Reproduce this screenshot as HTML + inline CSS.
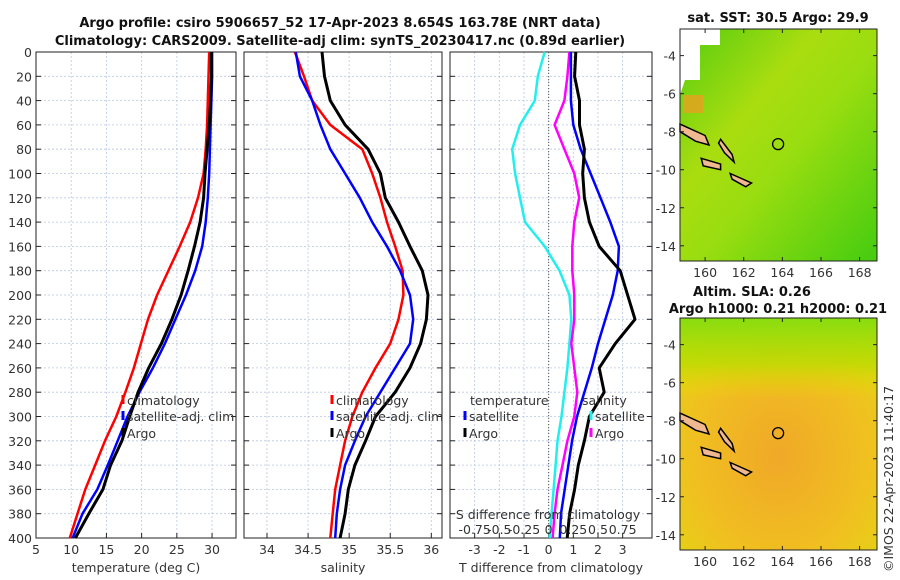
<!DOCTYPE html>
<html><head><meta charset="utf-8">
<style>
body{margin:0;background:#fff;}
svg{display:block;font-family:"DejaVu Sans","Liberation Sans",sans-serif;}
.t{font-size:12.5px;fill:#333;}
.b{font-weight:bold;font-size:13px;fill:#111;}
</style></head>
<body>
<svg id="c" width="900" height="580" viewBox="0 0 900 580" xmlns="http://www.w3.org/2000/svg">
<defs>
<linearGradient id="sst" x1="0" y1="0" x2="1" y2="1">
<stop offset="0" stop-color="#55cc10"/><stop offset="0.35" stop-color="#aadd10"/><stop offset="0.55" stop-color="#99dd10"/><stop offset="1" stop-color="#44cc10"/>
</linearGradient>
<radialGradient id="sla1" cx="0.5" cy="0.6" r="0.75">
<stop offset="0" stop-color="#f0a828"/><stop offset="0.6" stop-color="#f0c020"/><stop offset="1" stop-color="#e0d810"/>
</radialGradient>
<linearGradient id="sla2" x1="0" y1="0" x2="0" y2="1">
<stop offset="0" stop-color="#88dd10" stop-opacity="1"/><stop offset="0.2" stop-color="#bbdd00" stop-opacity="0.8"/><stop offset="0.35" stop-color="#eedd00" stop-opacity="0"/>
</linearGradient>
</defs>
<text class="b" x="340" y="27" text-anchor="middle">Argo profile: csiro 5906657_52 17-Apr-2023 8.654S 163.78E (NRT data)</text>
<text class="b" x="340" y="45" text-anchor="middle">Climatology: CARS2009. Satellite-adj clim: synTS_20230417.nc (0.89d earlier)</text>
<g id="plots"></g>
<g>
<rect x="680" y="29" width="197" height="232" fill="url(#sst)"/>
<polygon points="680,29 720,29 720,45 700,45 700,80 685,80 680,95" fill="#fff"/>
<rect x="683" y="95" width="20" height="18" fill="#e8a020" opacity="0.8"/>
<text class="b" x="778" y="22" text-anchor="middle">sat. SST: 30.5 Argo: 29.9</text>
</g>
<g>
<rect x="680" y="318" width="197" height="232" fill="url(#sla1)"/>
<rect x="680" y="318" width="197" height="232" fill="url(#sla2)"/>
<text class="b" x="752" y="296" text-anchor="middle">Altim. SLA: 0.26</text>
<text class="b" x="778" y="313" text-anchor="middle">Argo h1000: 0.21 h2000: 0.21</text>
</g>
<g id="maps"></g>
<text class="t" transform="translate(893,572) rotate(-90)" x="0" y="0">©IMOS 22-Apr-2023 11:40:17</text>
</svg>
<script>
const depths=[0,20,40,60,80,100,120,140,160,180,200,220,240,260,280,300,320,340,360,380,400];
const tClim=[29.6,29.5,29.4,29.3,29.1,28.8,28.0,26.9,25.4,23.8,22.2,20.9,19.9,18.9,17.7,16.4,14.8,13.4,12.0,10.9,9.8];
const tSat=[30.0,30.0,29.9,29.8,29.7,29.6,29.4,29.1,28.6,27.6,26.3,24.8,23.3,21.6,19.7,18.0,16.6,15.2,13.7,11.6,10.2];
const tArgo=[29.9,29.9,29.8,29.6,29.3,29.0,28.8,28.3,27.5,26.6,25.6,24.3,22.8,21.0,19.5,18.3,17.2,15.6,14.5,12.5,10.6];
const sClim=[34.34,34.45,34.55,34.77,35.16,35.28,35.38,35.46,35.56,35.65,35.66,35.6,35.5,35.32,35.16,35.04,34.95,34.89,34.83,34.8,34.77];
const sSat=[34.35,34.40,34.55,34.65,34.77,34.95,35.13,35.28,35.46,35.62,35.74,35.78,35.74,35.56,35.38,35.2,35.07,34.95,34.89,34.85,34.83];
const sArgo=[34.67,34.70,34.77,34.95,35.23,35.38,35.44,35.6,35.74,35.89,35.96,35.94,35.87,35.74,35.56,35.32,35.2,35.07,34.99,34.95,34.89];
const dTSat=[0.9,0.9,0.9,1.0,1.3,1.7,2.1,2.5,2.85,2.8,2.6,2.3,2.0,1.75,1.45,1.15,0.95,0.8,0.65,0.5,0.45];
const dTArgo=[1.1,1.05,1.25,1.25,1.45,1.38,1.45,1.65,2.05,2.9,3.2,3.5,2.7,2.05,2.25,1.65,1.45,1.2,1.05,0.85,0.75];
const dSSat=[-0.04,-0.11,-0.14,-0.29,-0.37,-0.34,-0.29,-0.24,-0.04,0.11,0.21,0.23,0.21,0.19,0.16,0.13,0.09,0.07,0.05,0.03,0.01];
const dSArgo=[0.21,0.19,0.16,0.06,0.16,0.26,0.31,0.26,0.24,0.24,0.26,0.26,0.23,0.26,0.29,0.26,0.19,0.14,0.09,0.06,0.04];
const depthTicks=[0,20,40,60,80,100,120,140,160,180,200,220,240,260,280,300,320,340,360,380,400];
const tTicks=[5,10,15,20,25,30];
const sTicks=[34,34.5,35,35.5,36];
const dTicks=[-3,-2,-1,0,1,2,3];
const dsLabels=["-0.75","-0.5","-0.25","0","0.25","0.5","0.75"];
const lonTicks=[160,162,164,166,168];
const latTicks=[-4,-6,-8,-10,-12,-14];

const NS="http://www.w3.org/2000/svg";
const g=document.getElementById('plots');
function mk(tag,at,parent){const e=document.createElementNS(NS,tag);for(const k in at)e.setAttribute(k,at[k]);(parent||g).appendChild(e);return e;}
const Y0=52,Y1=538;
const y=d=>Y0+(d/400)*(Y1-Y0);
const panels=[
 {x0:36,x1:236,v0:5,v1:33.4,ticks:tTicks,lab:"temperature (deg C)",name:"temperature-panel"},
 {x0:244,x1:442,v0:33.72,v1:36.13,ticks:sTicks,lab:"salinity",name:"salinity-panel"},
 {x0:450,x1:652,v0:-4.0,v1:4.19,ticks:dTicks,lab:"T difference from climatology",name:"difference-panel"}
];
panels.forEach((p,i)=>{p.x=v=>p.x0+(v-p.v0)/(p.v1-p.v0)*(p.x1-p.x0);
 const pg=mk('g',{});
 
 
 mk('rect',{x:p.x0,y:Y0,width:p.x1-p.x0,height:Y1-Y0,fill:'#fff'},pg);
 depthTicks.forEach(d=>{const l=mk('line',{x1:p.x0,x2:p.x1,y1:y(d),y2:y(d),stroke:'#b8c8e0','stroke-width':0.8,'stroke-dasharray':'2,2'},pg);
  
  
  mk('line',{x1:p.x0,x2:p.x0+5,y1:y(d),y2:y(d),stroke:'#222'},pg);
  mk('line',{x1:p.x1,x2:p.x1-5,y1:y(d),y2:y(d),stroke:'#222'},pg);
  if(i===0){const t=mk('text',{x:p.x0-4,y:y(d)+5,'text-anchor':'end',class:'t'},pg);t.textContent=d;
   
   }
 });
 p.ticks.forEach(v=>{const xx=p.x(v);
  mk('line',{x1:xx,x2:xx,y1:Y0,y2:Y1,stroke:'#b8c8e0','stroke-width':0.8,'stroke-dasharray':'2,2'},pg);
  mk('line',{x1:xx,x2:xx,y1:Y1,y2:Y1-5,stroke:'#222'},pg);
  const t=mk('text',{x:xx,y:Y1+16,'text-anchor':'middle',class:'t'},pg);t.textContent=v;
  
  
 });
 const xl=mk('text',{x:(p.x0+p.x1)/2,y:572,'text-anchor':'middle',class:'t'},pg);xl.textContent=p.lab;
 
 
 mk('rect',{x:p.x0,y:Y0,width:p.x1-p.x0,height:Y1-Y0,fill:'none',stroke:'#222','stroke-width':1},pg);
});
const P3=panels[2];
const dl=mk('line',{x1:P3.x(0),x2:P3.x(0),y1:Y0,y2:Y1,stroke:'#555','stroke-dasharray':'1,2'});


function line(p,vals,conv,col,w,name){
 const pts=vals.map((v,i)=>p.x(conv(v)).toFixed(1)+','+y(depths[i]).toFixed(1)).join(' ');
 const e=mk('polyline',{points:pts,fill:'none',stroke:col,'stroke-width':w,'stroke-linejoin':'round'});
 
 
}
const id=v=>v, s2t=v=>v*4;
line(panels[0],tClim,id,'#f00',2.5,'temp-climatology-line');
line(panels[0],tSat,id,'#00f',2.5,'temp-satellite-line');
line(panels[0],tArgo,id,'#000',3,'temp-argo-line');
line(panels[1],sClim,id,'#f00',2.5,'sal-climatology-line');
line(panels[1],sSat,id,'#00f',2.5,'sal-satellite-line');
line(panels[1],sArgo,id,'#000',3,'sal-argo-line');
line(P3,dSSat,s2t,'#22eeee',2.5,'sal-diff-satellite-line');
line(P3,dSArgo,s2t,'#ff00ff',2.5,'sal-diff-argo-line');
line(P3,dTSat,id,'#00f',2.5,'temp-diff-satellite-line');
line(P3,dTArgo,id,'#000',3,'temp-diff-argo-line');
const sh=mk('text',{x:548,y:519,'text-anchor':'middle',class:'t'});sh.textContent='S difference from climatology';


dsLabels.forEach((s,i)=>{const t=mk('text',{x:P3.x(dTicks[i]),y:534,'text-anchor':'middle',class:'t'});t.textContent=s;
 
 });
function leg(x,yy,col,txt){
 if(col){const m=mk('line',{x1:x,x2:x,y1:yy-10,y2:yy-1,stroke:col,'stroke-width':3});
  
  }
 const t=mk('text',{x:x+4,y:yy,class:'t'});t.textContent=txt;
 
 
}
leg(123,405,'#f00','climatology');leg(123,421,'#00f','satellite-adj. clim');leg(123,438,'#000','Argo');
leg(332,405,'#f00','climatology');leg(332,421,'#00f','satellite-adj. clim');leg(332,438,'#000','Argo');
leg(466,405,null,'temperature');leg(465,421,'#00f','satellite');leg(465,438,'#000','Argo');
leg(578,405,null,'salinity');leg(591,421,'#22eeee','satellite');leg(591,438,'#ff00ff','Argo');
const mg=document.getElementById('maps');
const maps=[{top:29,bot:261,latTop:-2.6,latBot:-14.8},{top:318,bot:550,latTop:-2.6,latBot:-14.8}];
const lon=v=>680+(v-158.7)/(168.9-158.7)*197;
maps.forEach((m,k)=>{
 const lat=v=>m.top+(m.latTop-v)/(m.latTop-m.latBot)*(m.bot-m.top);
 const isl=[[[158.7,-7.6],[160,-8.2],[160.2,-8.7],[159.5,-8.5],[158.7,-8]],[[160.8,-8.4],[161.4,-9.2],[161.5,-9.6],[161,-9.1],[160.7,-8.6]],[[159.8,-9.4],[160.8,-9.7],[160.8,-10],[159.9,-9.8]],[[161.3,-10.2],[162.4,-10.7],[162.1,-10.9],[161.4,-10.5]]];
 isl.forEach(pp=>{const e=mk('polygon',{points:pp.map(q=>lon(q[0]).toFixed(1)+','+lat(q[1]).toFixed(1)).join(' '),fill:'#f0b890',stroke:'#000','stroke-width':1.5},mg);
  
  });
 const c=mk('circle',{cx:lon(163.78),cy:lat(-8.654),r:5.5,fill:'none',stroke:'#000','stroke-width':1.3},mg);
 
 
 mk('rect',{x:680,y:m.top,width:197,height:m.bot-m.top,fill:'none',stroke:'#222'},mg);
 latTicks.forEach(v=>{mk('line',{x1:680,x2:684,y1:lat(v),y2:lat(v),stroke:'#222'},mg);mk('line',{x1:877,x2:873,y1:lat(v),y2:lat(v),stroke:'#222'},mg);
  const t=mk('text',{x:676,y:lat(v)+5,'text-anchor':'end',class:'t'},mg);t.textContent=v;
  
  });
 lonTicks.forEach(v=>{mk('line',{x1:lon(v),x2:lon(v),y1:m.bot,y2:m.bot-4,stroke:'#222'},mg);mk('line',{x1:lon(v),x2:lon(v),y1:m.top,y2:m.top+4,stroke:'#222'},mg);
  const t=mk('text',{x:lon(v),y:m.bot+16,'text-anchor':'middle',class:'t'},mg);t.textContent=v;
  
  });
});
</script>
</body></html>
